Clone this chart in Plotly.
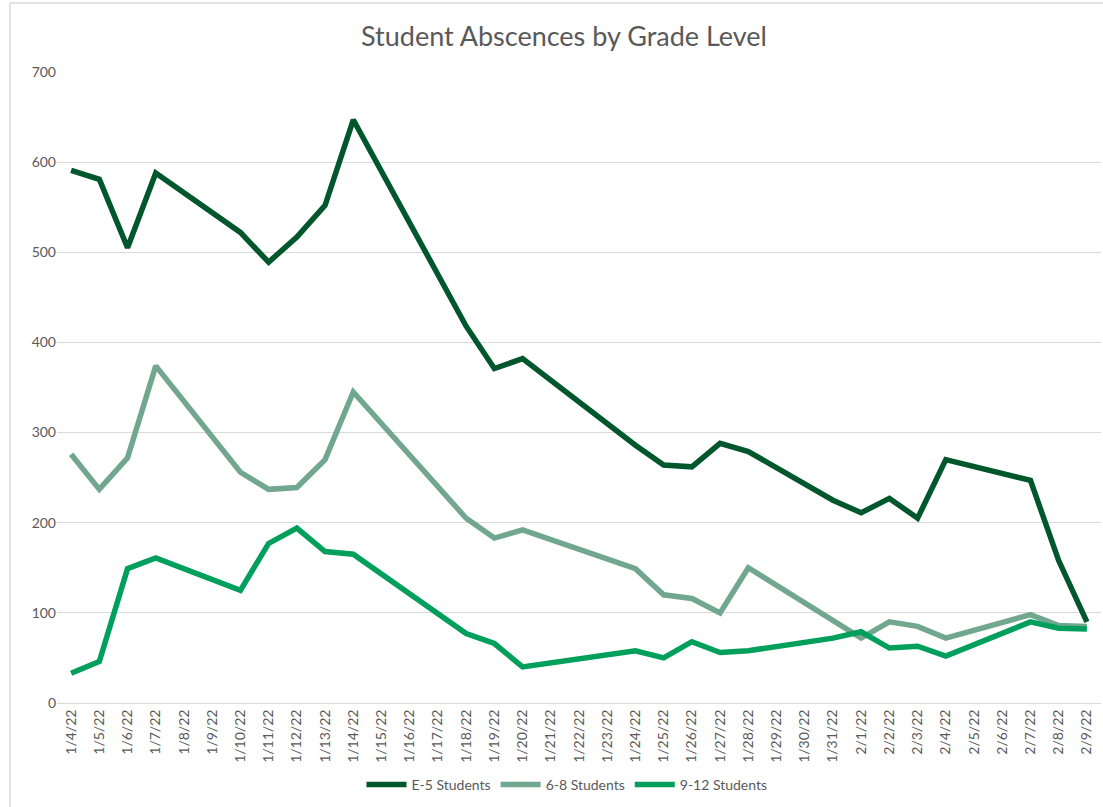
import plotly.graph_objects as go

all_dates = ["1/4/22", "1/5/22", "1/6/22", "1/7/22", "1/8/22", "1/9/22", "1/10/22", "1/11/22",
             "1/12/22", "1/13/22", "1/14/22", "1/15/22", "1/16/22", "1/17/22", "1/18/22",
             "1/19/22", "1/20/22", "1/21/22", "1/22/22", "1/23/22", "1/24/22", "1/25/22",
             "1/26/22", "1/27/22", "1/28/22", "1/29/22", "1/30/22", "1/31/22", "2/1/22",
             "2/2/22", "2/3/22", "2/4/22", "2/5/22", "2/6/22", "2/7/22", "2/8/22", "2/9/22"]

data_dates = ["1/4/22", "1/5/22", "1/6/22", "1/7/22", "1/10/22", "1/11/22", "1/12/22", "1/13/22",
              "1/14/22", "1/18/22", "1/19/22", "1/20/22", "1/24/22", "1/25/22", "1/26/22",
              "1/27/22", "1/28/22", "1/31/22", "2/1/22", "2/2/22", "2/3/22", "2/4/22",
              "2/7/22", "2/8/22", "2/9/22"]

e5_students = [591, 581, 505, 588, 522, 489, 517, 552, 647, 418, 371, 382, 286, 264, 262,
               288, 279, 225, 211, 227, 205, 270, 247, 158, 90]
g68_students = [276, 237, 272, 374, 256, 237, 239, 270, 345, 205, 183, 192, 149, 120, 116,
                100, 150, 92, 72, 90, 85, 72, 98, 86, 85]
g912_students = [33, 46, 149, 161, 125, 177, 194, 168, 165, 77, 66, 40, 58, 50, 68,
                 56, 58, 72, 79, 61, 63, 52, 90, 83, 82]

series_names = ["E-5 Students", "6-8 Students", "9-12 Students"]
series_colors = ["#00572B", "#72A78F", "#00A05C"]

fig = go.Figure()
for name, vals, col in zip(series_names, [e5_students, g68_students, g912_students], series_colors):
    fig.add_trace(go.Scatter(x=data_dates, y=vals, name=name, mode="lines",
                             line=dict(color=col, width=5.5, shape="linear")))

W, H = 1103, 807
ml, mr, mt, mb = 57, 2, 72, 104
pw, ph = W - ml - mr, H - mt - mb

fig.update_layout(
    width=W, height=H,
    margin=dict(l=ml, r=mr, t=mt, b=mb, autoexpand=False),
    paper_bgcolor="white", plot_bgcolor="white",
    font=dict(family="Lato, Carlito, 'Open Sans', sans-serif", color="#595959", size=14),
    title=dict(text="Student Abscences by Grade Level", x=564 / W, xanchor="center",
               y=1 - 37 / H, yanchor="middle",
               font=dict(size=27, color="#595959")),
    showlegend=True,
    legend=dict(orientation="h", x=(567 - ml) / pw, xanchor="center",
                y=-(785 - (mt + ph)) / ph, yanchor="middle",
                font=dict(size=14, color="#595959"), itemwidth=40, tracegroupgap=0),
    xaxis=dict(type="category", categoryorder="array", categoryarray=all_dates,
               tickmode="array", tickvals=all_dates, ticktext=all_dates,
               tickangle=-90, showgrid=False, showline=True, linecolor="#D9D9D9",
               linewidth=1, ticks="", range=[-0.5, len(all_dates) - 0.5],
               tickfont=dict(size=14, color="#595959")),
    yaxis=dict(range=[0, 700], dtick=100, showgrid=True, gridcolor="#D9D9D9", gridwidth=1,
               zeroline=False, showline=False, ticks="", ticklen=0,
               tickfont=dict(size=14, color="#595959")),
    shapes=[
        dict(type="line", xref="paper", yref="paper",
             x0=(10 - ml) / pw, x1=(W + 5 - ml) / pw,
             y0=(H - 3 - mb) / ph, y1=(H - 3 - mb) / ph,
             line=dict(color="#D9D9D9", width=1.5), layer="below"),
        dict(type="line", xref="paper", yref="paper",
             x0=(10 - ml) / pw, x1=(10 - ml) / pw,
             y0=(H - 3 - mb) / ph, y1=-(mb + 5) / ph,
             line=dict(color="#D9D9D9", width=1.5), layer="below"),
    ],
)

fig.write_html("out.html", config={"displayModeBar": False},
               post_script="document.body.style.margin='0';document.body.style.overflow='hidden';")
